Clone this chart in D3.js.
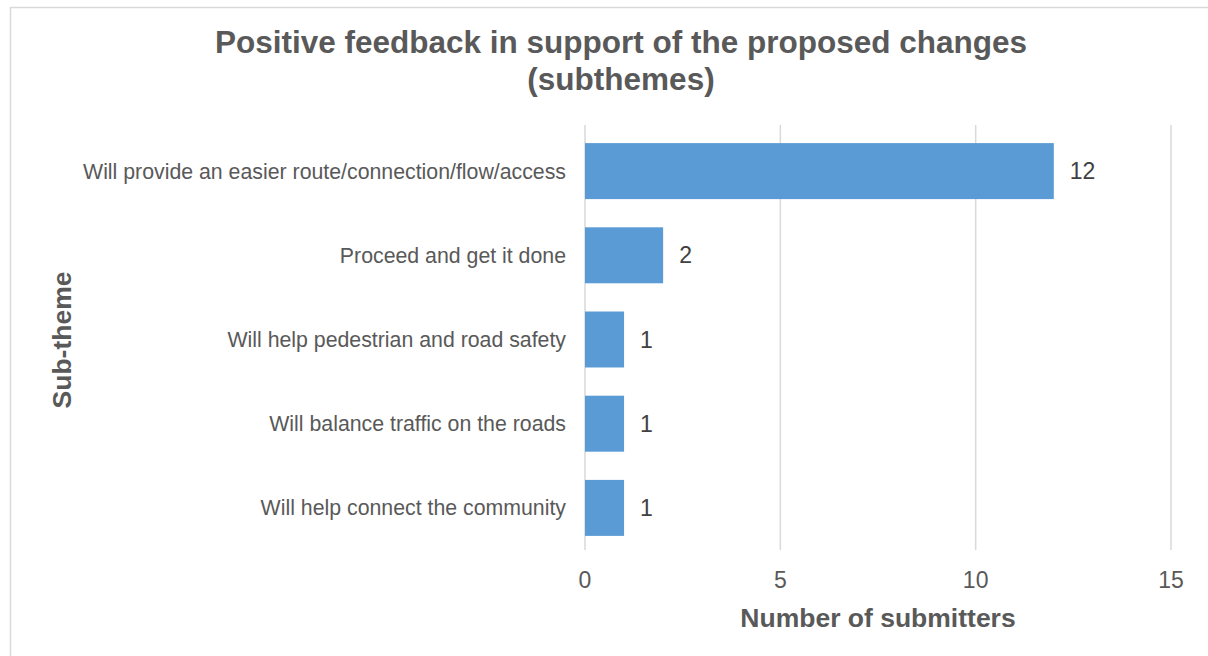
<!DOCTYPE html>
<html><head><meta charset="utf-8">
<script src="https://cdn.jsdelivr.net/npm/d3@7"></script>
<style>body{margin:0;background:#fff;} svg{display:block;font-family:"Liberation Sans",Arial,sans-serif;}</style>
</head><body>
<svg id="chart" width="1208" height="656"></svg>
<script>
const categories = ["Will provide an easier route/connection/flow/access","Proceed and get it done","Will help pedestrian and road safety","Will balance traffic on the roads","Will help connect the community"];
const values = [12, 2, 1, 1, 1];
const xTicks = [0, 5, 10, 15];
const titleLines = ["Positive feedback in support of the proposed changes","(subthemes)"];

const svg = d3.select("#chart");
svg.append("rect").attr("x",10.5).attr("y",7.5).attr("width",1220).attr("height",700)
  .attr("fill","#fff").attr("stroke","#d9d9d9").attr("stroke-width",1.5);

const x = d3.scaleLinear().domain([0,15]).range([585,1171]);
const y = d3.scaleBand().domain(categories).range([129,550]).paddingInner(0.335).paddingOuter(0.1675);

svg.append("g").selectAll("line").data(xTicks).join("line")
  .attr("x1",d=>x(d)).attr("x2",d=>x(d)).attr("y1",125).attr("y2",550)
  .attr("stroke","#d9d9d9").attr("stroke-width",1.5);

svg.append("g").selectAll("rect").data(values).join("rect")
  .attr("x",x(0)).attr("y",(d,i)=>y(categories[i]))
  .attr("width",d=>x(d)-x(0)).attr("height",y.bandwidth())
  .attr("fill","#5b9bd5");

svg.append("g").selectAll("text").data(values).join("text")
  .attr("x",d=>x(d)+16).attr("y",(d,i)=>y(categories[i])+y.bandwidth()/2)
  .attr("dy","0.35em").attr("font-size",23).attr("fill","#404040").text(d=>d);

svg.append("g").selectAll("text").data(categories).join("text")
  .attr("x",566).attr("y",d=>y(d)+y.bandwidth()/2).attr("dy","0.35em")
  .attr("text-anchor","end").attr("font-size",21.3).attr("fill","#595959").text(d=>d);

svg.append("g").selectAll("text").data(xTicks).join("text")
  .attr("x",d=>x(d)).attr("y",580).attr("dy","0.35em")
  .attr("text-anchor","middle").attr("font-size",23).attr("fill","#595959").text(d=>d);

svg.append("text").attr("x",x(7.5)).attr("y",618).attr("dy","0.35em")
  .attr("text-anchor","middle").attr("font-size",26.5).attr("font-weight","bold").attr("fill","#595959")
  .text("Number of submitters");

svg.append("text").attr("transform","translate(62,340) rotate(-90)").attr("dy","0.35em")
  .attr("text-anchor","middle").attr("font-size",26.5).attr("font-weight","bold").attr("fill","#595959")
  .text("Sub-theme");

svg.append("g").selectAll("text").data(titleLines).join("text")
  .attr("x",621).attr("y",(d,i)=>53+i*37)
  .attr("text-anchor","middle").attr("font-size",31.5).attr("font-weight","bold").attr("fill","#595959")
  .text(d=>d);
</script>
</body></html>
